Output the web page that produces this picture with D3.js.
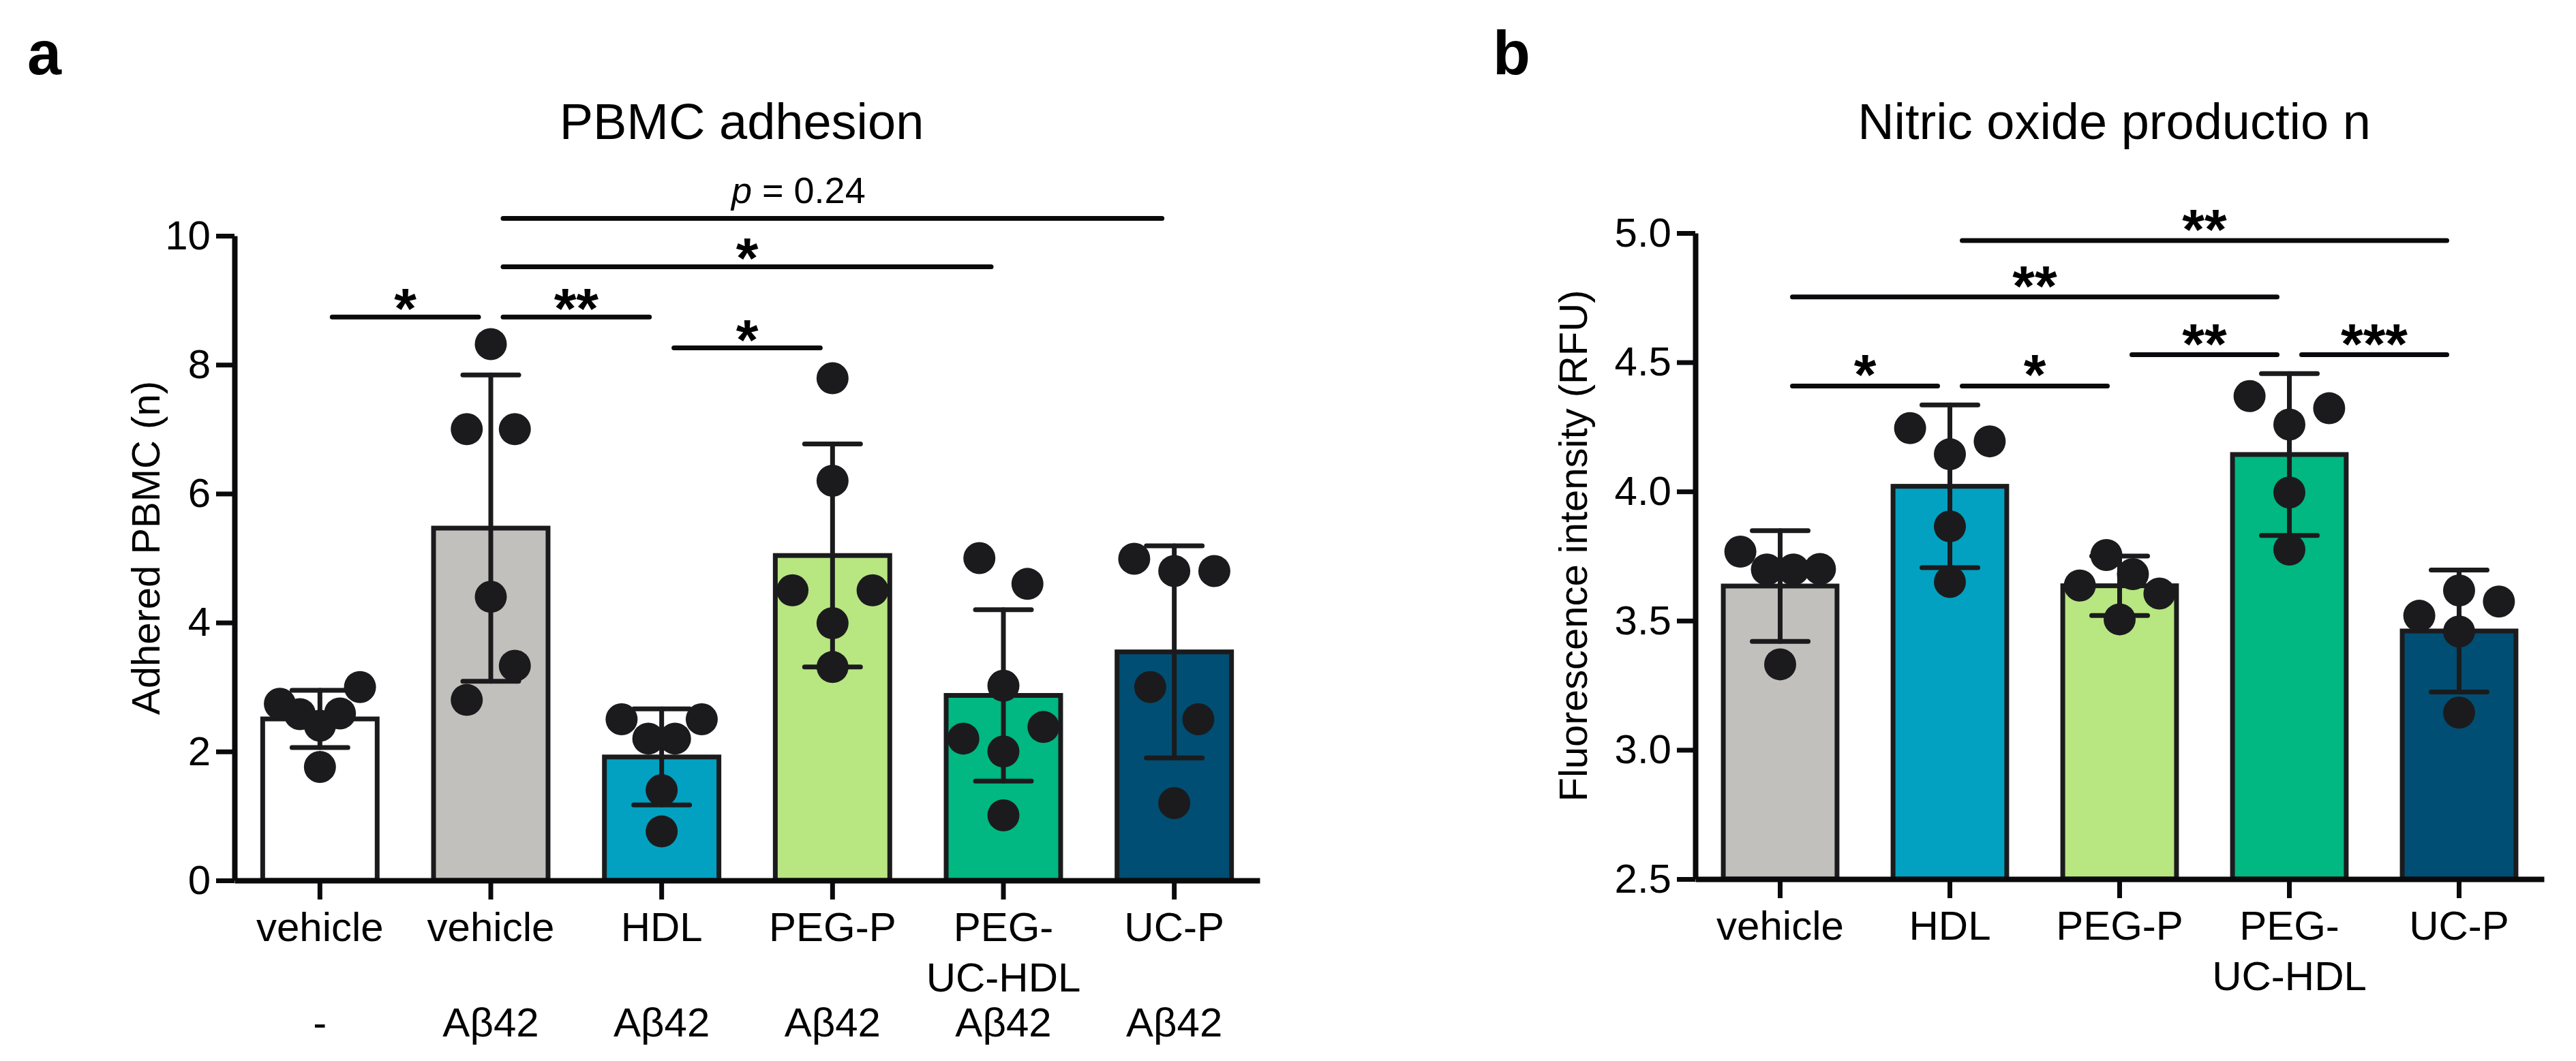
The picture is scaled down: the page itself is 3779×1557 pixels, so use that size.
<!DOCTYPE html>
<html>
<head>
<meta charset="utf-8">
<script src="https://cdn.jsdelivr.net/npm/d3@7"></script>
<style>
  body { margin: 0; background: #fff; }
  text { font-family: "Liberation Sans", Arial, sans-serif; fill: #000; }
</style>
</head>
<body>
<script>
// ---- panel a : PBMC adhesion ----
var groupsA = ["vehicle", "vehicle", "HDL", "PEG-P", "PEG-\nUC-HDL", "UC-P"];
var treatA = ["-", "Aβ42", "Aβ42", "Aβ42", "Aβ42", "Aβ42"];
var meanA = [2.505, 5.465, 1.915, 5.04, 2.87, 3.545];
var sdA = [0.445, 2.375, 0.745, 1.73, 1.33, 1.645];
var pointsA = [
    [2.74, 2.58, 2.40, 2.59, 3.0, 1.76],
    [8.32, 7.0, 7.0, 4.4, 2.8, 3.33],
    [2.5, 2.2, 2.2, 2.5, 1.4, 0.76],
    [7.79, 6.2, 4.5, 3.99, 4.5, 3.31],
    [5.0, 4.6, 3.02, 2.2, 2.0, 2.38, 1.01],
    [4.99, 4.8, 4.8, 3.0, 2.5, 1.2]
];
var ticksA = [0, 2, 4, 6, 8, 10];
var sigPairsA = [[0, 1], [1, 2], [2, 3], [1, 4], [1, 5]];
var sigTextA = ["*", "**", "*", "*", "p = 0.24"];
var sigLevelA = [8.74, 8.74, 8.26, 9.52, 10.27];

// ---- panel b : Nitric oxide production ----
var groupsB = ["vehicle", "HDL", "PEG-P", "PEG-\nUC-HDL", "UC-P"];
var meanB = [3.634, 4.02, 3.635, 4.143, 3.46];
var sdB = [0.214, 0.315, 0.115, 0.313, 0.236];
var pointsB = [
    [3.767, 3.698, 3.698, 3.70, 3.331],
    [4.245, 4.144, 4.194, 3.865, 3.65],
    [3.636, 3.754, 3.505, 3.68, 3.605],
    [4.369, 4.259, 4.322, 3.996, 3.775],
    [3.519, 3.617, 3.574, 3.458, 3.144]
];
var ticksB = [2.5, 3.0, 3.5, 4.0, 4.5, 5.0];
var sigPairsB = [[0, 1], [1, 2], [2, 3], [3, 4], [0, 3], [1, 4]];
var sigTextB = ["*", "*", "**", "***", "**", "**"];
var sigLevelB = [4.408, 4.408, 4.529, 4.529, 4.753, 4.971];

var colorsA = ["#ffffff", "#c1c0bc", "#02a1c1", "#b8e681", "#01b782", "#004e73"];
var colorsB = ["#c1c0bc", "#02a1c1", "#b8e681", "#01b782", "#004e73"];

var ink = "#1b1b1d";

var svg = d3.select("body").append("svg")
    .attr("width", 3779)
    .attr("height", 1557);

svg.append("rect").attr("width", 3779).attr("height", 1557).attr("fill", "#fff");

// spread dots of one group sideways, GraphPad style: rows of close values
function swarm(vals, y, bw) {
    var order = d3.range(vals.length).sort(function(a, b) { return vals[b] - vals[a]; });
    var off = vals.map(function() { return 0; });
    var i = 0;
    while (i < order.length) {
        var top = y(vals[order[i]]);
        var j = i;
        while (j + 1 < order.length && y(vals[order[j + 1]]) - top < 59) j++;
        var row = order.slice(i, j + 1).sort(d3.ascending);
        var n = row.length;
        var step = n > 1 ? Math.min(bw * 0.42, bw * 0.7 / (n - 1)) : 0;
        row.forEach(function(m, k) { off[m] = (k - (n - 1) / 2) * step; });
        i = j + 1;
    }
    return off;
}

function drawPanel(p) {
    var g = svg.append("g");

    var x = d3.scaleBand()
        .domain(d3.range(p.groups.length))
        .range(p.xRange)
        .paddingInner(0.33)
        .paddingOuter(0.165);
    var y = d3.scaleLinear().domain(p.yDomain).range(p.yRange);
    var bw = x.bandwidth();
    var cx = function(i) { return x(i) + bw / 2; };
    var base = y(p.yDomain[0]);

    // bars
    g.selectAll("rect.bar")
        .data(p.means)
        .enter()
        .append("rect")
        .attr("class", "bar")
        .attr("x", function(d, i) { return x(i); })
        .attr("width", bw)
        .attr("y", function(d) { return y(d); })
        .attr("height", function(d) { return base - y(d); })
        .attr("fill", function(d, i) { return p.colors[i]; })
        .attr("stroke", ink)
        .attr("stroke-width", 7);

    // error bars (mean +/- SD)
    var eb = g.selectAll("g.err")
        .data(p.means)
        .enter()
        .append("g")
        .attr("stroke", ink)
        .attr("stroke-width", 7)
        .attr("stroke-linecap", "round");
    eb.append("line")
        .attr("x1", function(d, i) { return cx(i); })
        .attr("x2", function(d, i) { return cx(i); })
        .attr("y1", function(d, i) { return y(d + p.sds[i]); })
        .attr("y2", function(d, i) { return y(d - p.sds[i]); });
    [1, -1].forEach(function(s) {
        eb.append("line")
            .attr("x1", function(d, i) { return cx(i) - 41; })
            .attr("x2", function(d, i) { return cx(i) + 41; })
            .attr("y1", function(d, i) { return y(d + s * p.sds[i]); })
            .attr("y2", function(d, i) { return y(d + s * p.sds[i]); });
    });

    // individual points
    p.points.forEach(function(vals, i) {
        var off = swarm(vals, y, bw);
        g.selectAll(null)
            .data(vals)
            .enter()
            .append("circle")
            .attr("cx", function(d, k) { return cx(i) + off[k]; })
            .attr("cy", function(d) { return y(d); })
            .attr("r", 23.5)
            .attr("fill", ink);
    });

    // y axis
    var yAxis = g.append("g")
        .attr("transform", "translate(" + p.xRange[0] + ",0)")
        .call(d3.axisLeft(y).tickValues(p.ticks).tickFormat(p.fmt)
            .tickSize(27).tickSizeOuter(0).tickPadding(8));
    // x axis
    var xAxis = g.append("g")
        .attr("transform", "translate(0," + base + ")")
        .call(d3.axisBottom(x).tickFormat("").tickSize(28).tickSizeOuter(0));

    [yAxis, xAxis].forEach(function(a) {
        a.select(".domain").attr("stroke", "#0a0a0c").attr("stroke-width", 8);
        a.selectAll(".tick line").attr("stroke", "#0a0a0c").attr("stroke-width", 7);
        a.selectAll("text").attr("font-size", 60).attr("fill", "#000")
            .attr("font-family", "'Liberation Sans', Arial, sans-serif");
    });

    // category labels
    p.groups.forEach(function(lab, i) {
        var t = g.append("text")
            .attr("x", cx(i))
            .attr("y", base + 89)
            .attr("text-anchor", "middle")
            .attr("font-size", 60);
        lab.split("\n").forEach(function(line, k) {
            t.append("tspan").attr("x", cx(i)).attr("dy", k ? 74 : 0).text(line);
        });
    });
    if (p.treat) {
        g.selectAll(null)
            .data(p.treat)
            .enter()
            .append("text")
            .attr("x", function(d, i) { return cx(i); })
            .attr("y", base + 229)
            .attr("text-anchor", "middle")
            .attr("font-size", 60)
            .text(function(d) { return d; });
    }

    // significance brackets
    p.sigPairs.forEach(function(pr, k) {
        var x1 = cx(pr[0]) + 18, x2 = cx(pr[1]) - 18, ly = y(p.sigLevel[k]);
        g.append("line")
            .attr("x1", x1).attr("x2", x2)
            .attr("y1", ly).attr("y2", ly)
            .attr("stroke", "#0a0a0c")
            .attr("stroke-width", 7)
            .attr("stroke-linecap", "round");
        var lab = p.sigText[k];
        if (lab.charAt(0) === "p") {
            var t = g.append("text")
                .attr("x", (x1 + x2) / 2 - 50)
                .attr("y", ly - 22)
                .attr("text-anchor", "middle")
                .attr("font-size", 54);
            t.append("tspan").attr("font-style", "italic").text("p");
            t.append("tspan").text(lab.slice(1));
        } else {
            g.append("text")
                .attr("x", (x1 + x2) / 2)
                .attr("y", ly + p.starShift)
                .attr("text-anchor", "middle")
                .attr("font-size", 84)
                .attr("font-weight", "bold")
                .text(lab);
        }
    });

    // axis title
    var mid = (p.yRange[0] + p.yRange[1]) / 2 - 15;
    g.append("text")
        .attr("transform", "translate(" + p.yLabelX + "," + mid + ") rotate(-90)")
        .attr("text-anchor", "middle")
        .attr("font-size", 58)
        .text(p.yLabel);

    // chart title and panel letter
    g.append("text")
        .attr("x", (p.xRange[0] + p.xRange[1]) / 2 - 8)
        .attr("y", 204)
        .attr("text-anchor", "middle")
        .attr("font-size", 74)
        .text(p.title);
    g.append("text")
        .attr("x", p.letterX)
        .attr("y", 109)
        .attr("font-size", 90)
        .attr("font-weight", "bold")
        .text(p.letter);
}

drawPanel({
    groups: groupsA, treat: treatA, means: meanA, sds: sdA, points: pointsA,
    colors: colorsA, ticks: ticksA, fmt: d3.format("d"),
    sigPairs: sigPairsA, sigText: sigTextA, sigLevel: sigLevelA, starShift: 17,
    xRange: [344, 1848], yRange: [1292, 346], yDomain: [0, 10],
    yLabel: "Adhered PBMC (n)", yLabelX: 234,
    title: "PBMC adhesion", letter: "a", letterX: 40
});

drawPanel({
    groups: groupsB, means: meanB, sds: sdB, points: pointsB,
    colors: colorsB, ticks: ticksB, fmt: d3.format(".1f"),
    sigPairs: sigPairsB, sigText: sigTextB, sigLevel: sigLevelB, starShift: 13,
    xRange: [2487, 3732], yRange: [1290, 342], yDomain: [2.5, 5.0],
    yLabel: "Fluorescence intensity (RFU)", yLabelX: 2328,
    title: "Nitric oxide productio n", letter: "b", letterX: 2190
});
</script>
</body>
</html>
